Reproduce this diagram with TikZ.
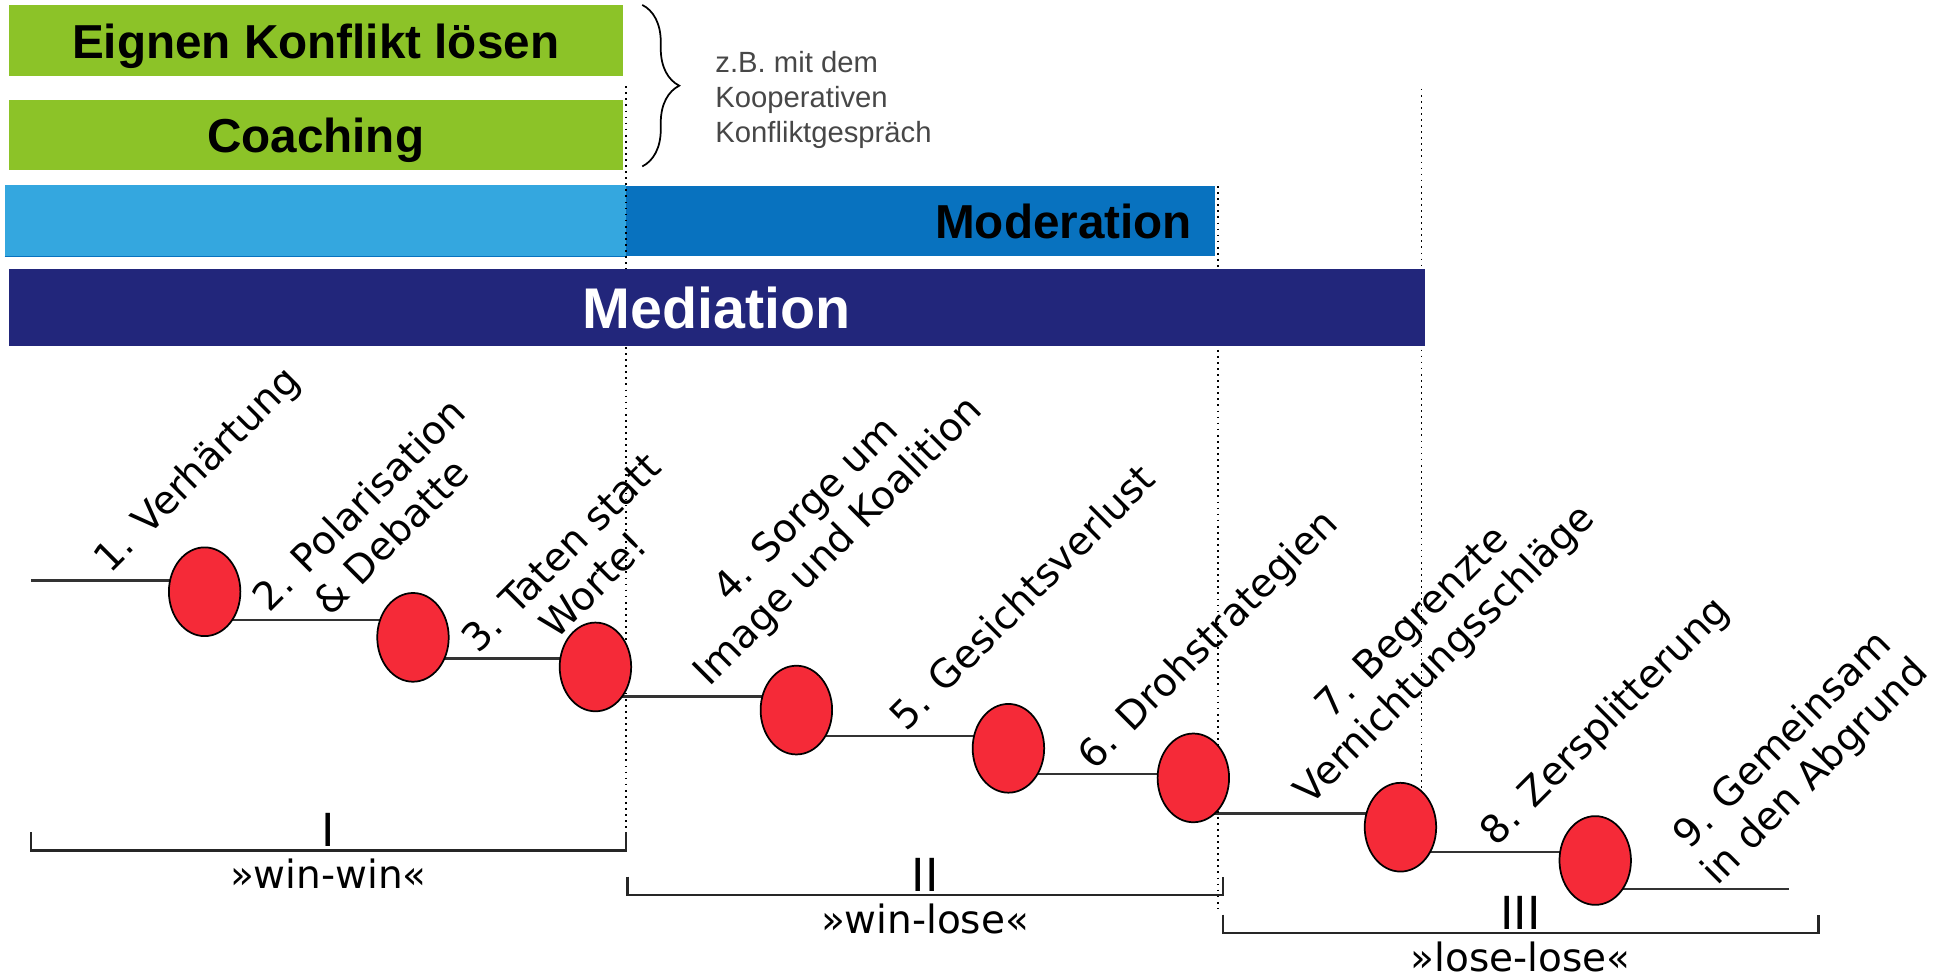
\documentclass[tikz,border=0pt]{standalone}
\usepackage{fontspec}
\setmainfont{DejaVu Sans}
\newfontfamily\barfont{Liberation Sans}
\usetikzlibrary{shapes.geometric}
\usetikzlibrary{positioning}
\usetikzlibrary{decorations.pathreplacing, backgrounds}

\definecolor{grn}{HTML}{8CC328}
\definecolor{lblue}{HTML}{34A7DF}
\definecolor{mblue}{HTML}{0872BF}
\definecolor{navy}{HTML}{22267B}
\definecolor{stagered}{HTML}{F52A38}

\begin{document}
\begin{tikzpicture}[x=0.02cm, y=-0.02cm,
	bar/.style={inner sep=0, text height=16pt, text depth=0pt,
		font=\barfont\bfseries\fontsize{22}{26}\selectfont},
	stage/.style={draw, ellipse, fill=stagered, line width=0.8pt,
		minimum width=1.16cm, minimum height=1.44cm, inner sep=0},
	conn/.style={line width=1.1pt, draw=black!80},
	lbl/.style={rotate=45, align=center, inner sep=0, font=\fontsize{18}{21}\selectfont},
	phase/.style={line width=1.1pt, draw=black!85}]
	\useasboundingbox (0,0) rectangle (1568,794);
	% Verfahren
	\node [bar, fill=grn, minimum width=9.96cm, minimum height=1.16cm] (own) at (256,33) {Eignen Konflikt lösen};
	\node [bar, fill=grn, minimum width=9.96cm, minimum height=1.14cm] (coach) at (256,109.5) {Coaching};
	\node [bar, fill=lblue, minimum width=10.08cm, minimum height=1.16cm] (pre) at (256,179) {};
	\draw [mblue, line width=0.6pt] (pre.south west) -- (pre.south east);
	\node [bar, fill=mblue, minimum width=9.56cm, minimum height=1.14cm, text width=8.80cm, align=right] (mod) at (747,179.5) {Moderation};
	\draw [dotted, line width=0.8pt] (508,70) -- (508,690);
	\draw [dotted, line width=0.8pt] (988,151) -- (988,737);
	\draw [dotted, line width=0.8pt] (1153,72) -- (1153,640);
	\node [bar, fill=navy, text=white, minimum width=22.98cm, minimum height=1.26cm, text height=19pt,
		font=\barfont\bfseries\fontsize{26.5}{30}\selectfont] (med) at (581.5,249.5) {Mediation};
	\draw [decorate, decoration={brace, amplitude=0.6cm}, line width=0.8pt] (521,4) -- (521,135);
	\node [anchor=west, align=left, inner sep=0, text=black!72,
		font=\barfont\fontsize{13.5}{16}\selectfont] (note) at (580,81) {z.B. mit dem\\Kooperativen\\Konfliktgespräch};
	% Stufen
	\foreach \n/\x/\y in {1/166/480, 2/335/517, 3/483/541, 4/646/576, 5/818/607, 6/968/631, 7/1136/671, 8/1294/698}
		\node [stage] (\n) at (\x,\y) {};
	\coordinate (start) at (25,471);
	\coordinate (end) at (1451,721);
	\begin{scope}[on background layer]
		\draw [conn] (start) -- (1 |- start);
		\foreach \a/\b/\y in {1/2/503, 2/3/534, 3/4/565, 4/5/597, 5/6/628, 6/7/660, 7/8/691}
			\draw [conn] (\a |- 0,\y) -- (\b |- 0,\y);
		\draw [conn] (8 |- end) -- (end);
	\end{scope}
	\node [lbl] (l1) at (161,382) {1. Verhärtung};
	\node [lbl] (l2) at (304,422) {2. Polarisation\\\& Debatte};
	\node [lbl] (l3) at (468,461) {3. Taten statt\\Worte!};
	\node [lbl] (l4) at (668,427) {4. Sorge um\\Image und Koalition};
	\node [lbl] (l5) at (829,484) {5. Gesichtsverlust};
	\node [lbl] (l6) at (981,520) {6. Drohstrategien};
	\node [lbl] (l7) at (1160,519) {7. Begrenzte\\Vernichtungsschläge};
	\node [lbl] (l8) at (1303,586) {8. Zersplitterung};
	\node [lbl] (l9) at (1460,614) {9. Gemeinsam\\in den Abgrund};
	% Phasen
	\foreach \a/\b/\y/\r/\t in {25/508/690/I/»win-win«, 509/992/726/II/»win-lose«, 992/1475/757/III/»lose-lose«}{
		\draw [phase] (\a,\y-15) -- (\a,\y) -- (\b,\y) -- (\b,\y-15);
		\node [anchor=base, inner sep=0, font=\fontsize{21}{24}\selectfont] (num\r) at ({(\a+\b)/2},\y-3) {\r};
		\node [anchor=base, inner sep=0, font=\fontsize{18}{21}\selectfont] (phase\r) at ({(\a+\b)/2},\y+31) {\t};
	}
\end{tikzpicture}
\end{document}
